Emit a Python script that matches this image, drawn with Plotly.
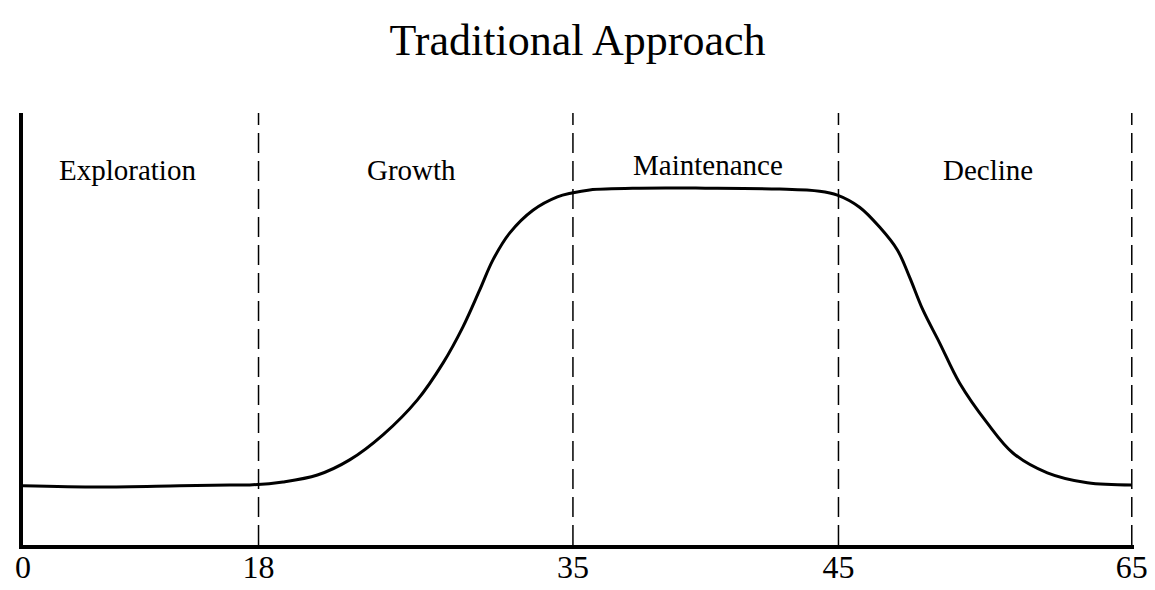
import plotly.graph_objects as go

# --- data ---
ages = [0, 18, 35, 45, 65]                      # tick labels (age)
age_pos = [0, 21.2, 49.5, 73.4, 99.8]           # schematic axis position of each age
stages = ["Exploration", "Growth", "Maintenance", "Decline"]
stage_label_x = [9.4, 35.0, 61.7, 86.9]
stage_label_y = [86.8, 86.8, 88.0, 86.8]

curve_x = [0, 6.9, 14.1, 18.6, 20.4, 23.4, 26.5, 29.4, 32.4, 35.5, 37.8, 39.6, 41.1,
           42.3, 43.8, 45.9, 48.1, 49.4, 51.0, 55.5, 61.4, 68.1, 71.7, 73.3, 75.3,
           77.1, 78.7, 79.8, 81.0, 82.5, 84.3, 86.8, 89.1, 92.2, 95.8, 99.8]
curve_y = [13.7, 13.4, 13.7, 13.9, 13.9, 14.6, 16.2, 19.7, 25.5, 33.6, 42.1, 50.5, 59.0,
           66.0, 72.2, 77.5, 80.6, 81.5, 82.2, 82.6, 82.6, 82.4, 81.9, 81.0, 78.2,
           73.6, 68.3, 62.0, 54.4, 46.8, 37.5, 28.2, 21.3, 16.7, 14.4, 13.9]

FONT = "Liberation Serif"

fig = go.Figure()
fig.add_trace(go.Scatter(
    x=curve_x, y=curve_y, mode="lines",
    line=dict(color="black", width=3, shape="spline", smoothing=1.0),
    hoverinfo="skip", showlegend=False,
))

# dashed stage boundaries
for p in age_pos[1:]:
    fig.add_shape(type="line", xref="x", yref="y", x0=p, x1=p, y0=0, y1=100.5,
                  line=dict(color="black", width=1.5, dash="20px,8px"))

for name, lx, ly in zip(stages, stage_label_x, stage_label_y):
    fig.add_annotation(x=lx, y=ly, xref="x", yref="y", text=name, showarrow=False,
                       font=dict(family=FONT, size=29, color="black"))

fig.update_layout(
    width=1155, height=590,
    paper_bgcolor="white", plot_bgcolor="white",
    margin=dict(l=23, r=21, t=113, b=45, autoexpand=False),
    title=dict(text="Traditional Approach", x=0.5, xanchor="center",
               y=1 - 40 / 590, yref="container", yanchor="middle",
               font=dict(family=FONT, size=44, color="black")),
    xaxis=dict(range=[0, 100], tickvals=age_pos, ticktext=[str(a) for a in ages],
               showgrid=False, zeroline=False, showline=True, linecolor="black",
               linewidth=4, ticks="", ticklen=0, ticklabelstandoff=-9,
               automargin=False,
               tickfont=dict(family=FONT, size=32, color="black")),
    yaxis=dict(range=[0, 100], showgrid=False, zeroline=False, showline=True,
               linecolor="black", linewidth=4, showticklabels=False, ticks="",
               automargin=False),
)

fig.write_html("out.html", config={"displayModeBar": False},
               post_script="document.body.style.margin='0px';document.body.style.overflow='hidden';")
